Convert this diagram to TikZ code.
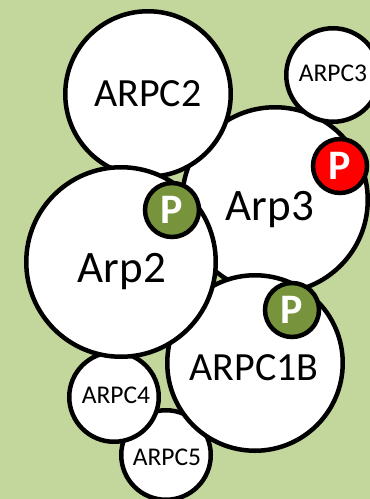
\documentclass[tikz,border=0pt]{standalone}
\usepackage{fontspec}
\setmainfont{Carlito}
\definecolor{bg}{HTML}{C3D69B}
\definecolor{pgreen}{HTML}{77933C}
\definecolor{pred}{HTML}{FF0000}
\begin{document}
\begin{tikzpicture}[x=1pt,y=-1pt,
  sub/.style={circle,draw=black,line width=4.5pt,fill=white,inner sep=0pt,minimum size=#1},
  pmark/.style={circle,draw=black,line width=4.5pt,inner sep=0pt,minimum size=54pt,fill=#1,
    text=white,font=\fontsize{42}{46}\selectfont\bfseries},
  big/.style={anchor=base,font=\fontsize{45}{50}\selectfont},
  mid/.style={anchor=base,font=\fontsize{40}{46}\selectfont},
  small/.style={anchor=base,font=\fontsize{25.5}{30}\selectfont}]
\useasboundingbox (0,0) rectangle (370,499);
\clip (0,0) rectangle (370,499);
\fill[bg] (0,0) rectangle (370,499);
% circles
\node[sub=89.5pt]  (c5)  at (166,455) {};
\node[sub=185.5pt] (c3)  at (275,200) {};
\node[sub=93.5pt]  (cc3) at (333,75)  {};
\node[sub=165.5pt] (cc2) at (148,94)  {};
\node[sub=175.5pt] (c1b) at (255,363) {};
\node[sub=89.5pt]  (c4)  at (114,397) {};
\node[sub=189.5pt] (c2)  at (121,262) {};
% labels
\node[mid]   (lcc2) at (148,106) {ARPC2};
\node[small] (lcc3) at (333,81)  {ARPC3};
\node[big]   (l3)   at (270,220) {Arp3};
\node[big]   (l2)   at (122,282) {Arp2};
\node[mid]   (l1b)  at (254,380) {ARPC1B};
\node[small] (l4)   at (116,403) {ARPC4};
\node[small] (l5)   at (167,465) {ARPC5};
% phosphates
\node[pmark=pgreen] (p1) at (172,210) {P};
\node[pmark=pred]   (p2) at (340,166) {P};
\node[pmark=pgreen] (p3) at (292,310) {P};
\end{tikzpicture}
\end{document}
